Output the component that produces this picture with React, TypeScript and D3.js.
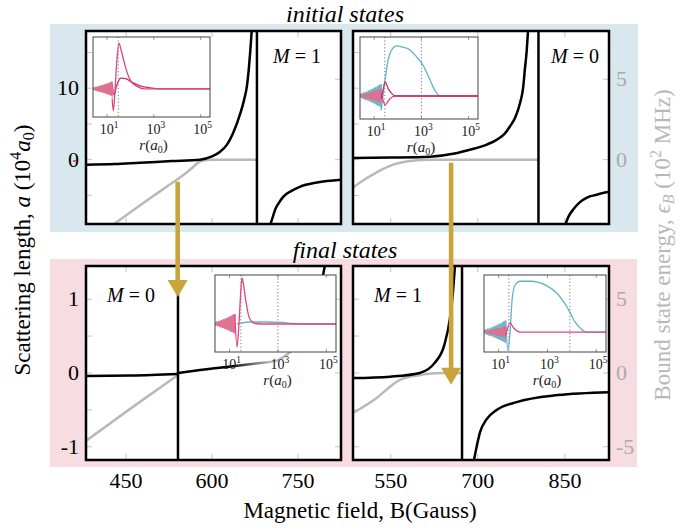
import React from "react";
import * as d3 from "d3";

const SERIF = "'Liberation Serif','Tinos','Times New Roman','Nimbus Roman','DejaVu Serif','Noto Serif',serif";

// ---------------- axis ticks ----------------
const LEFT_B_TICKS = [450, 600, 750];
const RIGHT_B_TICKS = [550, 700, 850];
const TOP_A_TICKS = [-5, 0, 5, 10, 15];
const TOP_A_LABELS = [0, 10];
const TOP_E_TICKS = [0, 5];
const BOT_A_TICKS = [-1, -0.5, 0, 0.5, 1];
const BOT_A_LABELS = [-1, 0, 1];
const BOT_E_TICKS = [-5, 0, 5];
const INSET_LOG_TICKS = [1, 3, 5];

// ---------------- main curves: [B (G), a (1e4 a0)] and [B, eps (1e2 MHz)] ----------------
const TL_A_LEFT: [number, number][] = [[380, -0.7], [430, -0.6], [474, -0.42], [530, -0.2], [579, 0], [600, 0.45], [614, 1.1], [626, 2.1], [636, 3.6], [649, 6.4], [656, 8.4], [661, 10.4], [664, 12.6], [666.5, 15], [669.6, 18.5]];
const TL_POLE = 678.3;
const TL_A_RIGHT: [number, number][] = [[700, -9.5], [706, -8], [710, -7], [717, -6], [724, -5.2], [738, -4.4], [753, -3.8], [783, -3.2], [825, -2.8]];
const TL_E: [number, number][] = [[425, -4.1], [480, -2.7], [520, -1.7], [550, -0.95], [565, -0.52], [575, -0.2], [585, -0.05], [600, 0], [678.3, 0]];

const TR_A_LEFT: [number, number][] = [[485, 0.25], [550, 0.3], [618, 0.42], [660, 0.85], [687, 1.4], [712, 2.0], [733, 2.8], [746, 3.6], [755, 4.6], [765, 6.0], [773, 8.0], [778, 10], [781, 12.6], [784, 15], [786.8, 18.5]];
const TR_POLE = 804.5;
const TR_A_RIGHT: [number, number][] = [[849, -9.5], [856, -8], [864, -7], [875, -6], [888, -5.3], [905, -4.9], [926, -4.5]];
const TR_E: [number, number][] = [[485, -1.74], [502, -1.3], [519, -0.93], [537, -0.58], [554, -0.31], [570, -0.16], [588, -0.07], [605, -0.02], [620, 0], [804.5, 0]];

const BL_A_LEFT: [number, number][] = [[380, -0.04], [460, -0.035], [540.5, -0.015]];
const BL_POLE = 540.5;
const BL_A_RIGHT: [number, number][] = [[540.5, 0], [579, 0.04], [640, 0.095]];
const BL_A_FADE: [number, number][] = [[640, 0.095], [684, 0.135], [710, 0.16], [727, 0.23], [745, 0.34], [762, 0.51], [774, 0.72], [785, 0.99], [792, 1.26], [798, 1.5]];
// gradient stops along B: black -> grey -> grey -> black
const BL_FADE_STOPS: [number, string][] = [[630, "#000"], [700, "#b9b9b9"], [784, "#b9b9b9"], [792, "#000"]];
const BL_E: [number, number][] = [[380, -4.6], [460, -2.35], [540.5, -0.14]];

const BR_A_LEFT: [number, number][] = [[485, -0.07], [549, -0.05], [600, 0], [626, 0.14], [642, 0.37], [652, 0.74], [657, 1.08], [661, 1.5]];
const BR_POLE = 672.8;
const BR_A_RIGHT: [number, number][] = [[693, -1.2], [698, -1.0], [704, -0.8], [715, -0.63], [733, -0.5], [767, -0.395], [838, -0.3], [926, -0.26]];
const BR_E: [number, number][] = [[485, -2.71], [521, -1.83], [566, -0.47], [599, -0.15], [620, -0.03], [640, 0], [672.8, 0]];

// ---------------- inset wavefunctions: [log10 r, psi (arb.)] ----------------
const NOISE = [0.1, -0.15, 0.2, -0.1, 0.25, -0.2, 0.15, -0.25, 0.3, -0.2, 0.3, -0.3, 0.25, -0.35, 0.35, -0.3, 0.4, -0.35, 0.35, -0.4, 0.45, -0.4, 0.5, -0.45, 0.45, -0.5, 0.55, -0.5, 0.6, -0.55, 0.6, -0.6, 0.65, -0.6, 0.7, -0.65, 0.75, -0.7, 0.7, -0.75, 0.8, -0.8, 0.85, -0.8, 0.9, -0.85, 0.95, -0.9, 1, -0.95, 1];

const TLI_A: [number, number][] = [[1.22, -0.2], [1.27, -0.42], [1.33, -0.1], [1.42, 0.55], [1.51, 0.88], [1.6, 0.75], [1.77, 0.45], [1.98, 0.18], [2.28, 0.05], [2.62, 0], [5.4, 0]];
const TLI_B: [number, number][] = [[1.22, 0.1], [1.3, -0.12], [1.4, 0.05], [1.6, 0.21], [1.8, 0.2], [1.98, 0.15], [2.41, 0.06], [2.84, 0.02], [3.26, 0], [5.4, 0]];
const TLI_DOTS = [1.48];

const TRI_T: [number, number][] = [[1.3, -0.24], [1.46, 0.27], [1.59, 0.61], [1.74, 0.78], [1.955, 0.85], [2.2, 0.83], [2.52, 0.78], [2.8, 0.66], [3.01, 0.56], [3.2, 0.42], [3.37, 0.27], [3.5, 0.15], [3.65, 0.05], [3.79, 0], [5.4, 0]];
const TRI_P1: [number, number][] = [[1.3, -0.05], [1.4, 0.15], [1.47, 0.24], [1.6, 0.12], [1.75, 0.04], [1.9, 0], [5.4, 0]];
const TRI_P2: [number, number][] = [[1.3, 0.05], [1.4, -0.1], [1.47, -0.15], [1.6, -0.08], [1.75, -0.02], [1.9, 0], [5.4, 0]];
const TRI_DOTS = [1.45, 3.0];

const BLI_P: [number, number][] = [[1.22, 0.2], [1.31, -0.47], [1.4, 0.1], [1.47, 0.7], [1.52, 0.94], [1.58, 0.8], [1.67, 0.49], [1.8, 0.15], [1.95, 0.04], [2.05, 0.01], [2.3, 0], [5.4, 0]];
const BLI_T: [number, number][] = [[1.3, 0], [1.5, 0.02], [1.8, 0.04], [2.5, 0.04], [3.2, 0.03], [3.6, 0.01], [4, 0], [5.4, 0]];
const BLI_DOTS = [1.47, 3.0];

const BRI_T: [number, number][] = [[1.3, 0.1], [1.38, -0.32], [1.47, 0], [1.55, 0.56], [1.67, 0.82], [1.88, 0.89], [2.29, 0.89], [2.98, 0.81], [3.39, 0.68], [3.8, 0.44], [4.13, 0.18], [4.42, 0.04], [4.58, 0], [5.4, 0]];
const BRI_P: [number, number][] = [[1.3, -0.05], [1.47, 0.16], [1.6, 0.08], [1.88, 0], [5.4, 0]];
const BRI_DOTS = [1.42, 3.92];

const PINK = "#e2457c";
const PINK_D = "#c9306a";
const PINK_N = "#de7090";
const TEAL = "#63b2ca";
const TEAL_N = "#6fb3c8";
const GREY = "#b9b9b9";
const GOLD = "#c9a43a";

type Pt = [number, number];
type InsetCurve = { pts: Pt[]; color: string; noise?: { end: number; amp: number; color: string } };
type Inset = { x0: number; x1: number; y0: number; y1: number; yDom: [number, number]; curves: InsetCurve[]; dots: number[] };
type Panel = {
  id: string; x0: number; x1: number; y0: number; y1: number;
  bDom: [number, number]; aDom: [number, number]; eDom: [number, number];
  bTicks: number[]; aTicks: number[]; aLabels: number[]; eTicks: number[];
  leftCol: boolean; bottomRow: boolean;
  aSegs: Pt[][]; fade?: { pts: Pt[]; stops: [number, string][] };
  pole: number; eLine: Pt[]; m: string; mPos: [number, number]; inset: Inset;
};

const PANELS: Panel[] = [
  {
    id: "tl", x0: 86, x1: 341, y0: 31, y1: 224, bDom: [380, 825], aDom: [-9, 18], eDom: [-4, 8],
    bTicks: LEFT_B_TICKS, aTicks: TOP_A_TICKS, aLabels: TOP_A_LABELS, eTicks: TOP_E_TICKS,
    leftCol: true, bottomRow: false, aSegs: [TL_A_LEFT, TL_A_RIGHT], pole: TL_POLE, eLine: TL_E, m: "1", mPos: [297, 63],
    inset: { x0: 93, x1: 210, y0: 37, y1: 117, yDom: [-0.54, 1], dots: TLI_DOTS,
      curves: [
        { pts: TLI_B, color: PINK_D, noise: { end: 1.22, amp: 0.1, color: PINK_N } },
        { pts: TLI_A, color: PINK, noise: { end: 1.22, amp: 0.14, color: PINK_N } },
      ] },
  },
  {
    id: "tr", x0: 353, x1: 609, y0: 31, y1: 224, bDom: [485, 926], aDom: [-9, 18], eDom: [-4, 8],
    bTicks: RIGHT_B_TICKS, aTicks: TOP_A_TICKS, aLabels: TOP_A_LABELS, eTicks: TOP_E_TICKS,
    leftCol: false, bottomRow: false, aSegs: [TR_A_LEFT, TR_A_RIGHT], pole: TR_POLE, eLine: TR_E, m: "0", mPos: [575, 63],
    inset: { x0: 360, x1: 478, y0: 37, y1: 119, yDom: [-0.39, 1], dots: TRI_DOTS,
      curves: [
        { pts: TRI_T, color: TEAL, noise: { end: 1.3, amp: 0.2, color: TEAL_N } },
        { pts: TRI_P2, color: PINK, noise: { end: 1.3, amp: 0.12, color: PINK_N } },
        { pts: TRI_P1, color: PINK_D },
      ] },
  },
  {
    id: "bl", x0: 86, x1: 341, y0: 266, y1: 460, bDom: [380, 825], aDom: [-1.18, 1.45], eDom: [-5.9, 7.25],
    bTicks: LEFT_B_TICKS, aTicks: BOT_A_TICKS, aLabels: BOT_A_LABELS, eTicks: BOT_E_TICKS,
    leftCol: true, bottomRow: true, aSegs: [BL_A_LEFT, BL_A_RIGHT], fade: { pts: BL_A_FADE, stops: BL_FADE_STOPS },
    pole: BL_POLE, eLine: BL_E, m: "0", mPos: [131, 302],
    inset: { x0: 215, x1: 336, y0: 275, y1: 352, yDom: [-0.572, 1], dots: BLI_DOTS,
      curves: [
        { pts: BLI_T, color: TEAL },
        { pts: BLI_P, color: PINK, noise: { end: 1.22, amp: 0.2, color: PINK_N } },
      ] },
  },
  {
    id: "br", x0: 353, x1: 609, y0: 266, y1: 460, bDom: [485, 926], aDom: [-1.18, 1.45], eDom: [-5.9, 7.25],
    bTicks: RIGHT_B_TICKS, aTicks: BOT_A_TICKS, aLabels: BOT_A_LABELS, eTicks: BOT_E_TICKS,
    leftCol: false, bottomRow: true, aSegs: [BR_A_LEFT, BR_A_RIGHT], pole: BR_POLE, eLine: BR_E, m: "1", mPos: [398, 302],
    inset: { x0: 484, x1: 606, y0: 275, y1: 352, yDom: [-0.35, 1], dots: BRI_DOTS,
      curves: [
        { pts: BRI_T, color: TEAL, noise: { end: 1.3, amp: 0.2, color: TEAL_N } },
        { pts: BRI_P, color: PINK, noise: { end: 1.3, amp: 0.1, color: PINK_N } },
      ] },
  },
];

// arrows: B value in column, start on top panel eps, tip on bottom panel a
const ARROWS = [
  { top: 0, bot: 2, B: 540, eTop: -1.37, aBot: 1.03 },
  { top: 1, bot: 3, B: 654, eTop: -0.19, aBot: -0.16 },
];

function scalesFor(p: Panel) {
  const x = d3.scaleLinear().domain(p.bDom).range([p.x0, p.x1]);
  const ya = d3.scaleLinear().domain(p.aDom).range([p.y1, p.y0]);
  const ye = d3.scaleLinear().domain(p.eDom).range([p.y1, p.y0]);
  return { x, ya, ye };
}

function InsetView({ ins, id }: { ins: Inset; id: string }) {
  const x = d3.scaleLinear().domain([0.4, 5.4]).range([ins.x0, ins.x1]);
  const y = d3.scaleLinear().domain(ins.yDom).range([ins.y1, ins.y0]);
  const smooth = d3.line<Pt>().x((d) => x(d[0])).y((d) => y(d[1])).curve(d3.curveMonotoneX);
  const lin = d3.line<Pt>().x((d) => x(d[0])).y((d) => y(d[1]));
  const clip = `clip-ins-${id}`;
  return (
    <g>
      <defs>
        <clipPath id={clip}>
          <rect x={ins.x0} y={ins.y0} width={ins.x1 - ins.x0} height={ins.y1 - ins.y0} />
        </clipPath>
      </defs>
      <rect x={ins.x0} y={ins.y0} width={ins.x1 - ins.x0} height={ins.y1 - ins.y0} fill="#fff" />
      <g clipPath={`url(#${clip})`}>
        {ins.dots.map((d, i) => (
          <line key={i} x1={x(d)} x2={x(d)} y1={ins.y0} y2={ins.y1} stroke="#777" strokeWidth={1} strokeDasharray="1.2,2.2" />
        ))}
        {ins.curves.map((c, i) => {
          let noisePath: string | null = null;
          if (c.noise) {
            const n = c.noise;
            const pts: Pt[] = NOISE.map((v, k) => [0.4 + (k * (n.end - 0.4)) / (NOISE.length - 1), v * n.amp]);
            pts.push(c.pts[0]);
            noisePath = lin(pts);
          }
          return (
            <g key={i}>
              {noisePath && <path d={noisePath} fill="none" stroke={c.noise!.color} strokeWidth={0.9} />}
              <path d={smooth(c.pts) || ""} fill="none" stroke={c.color} strokeWidth={1.3} />
            </g>
          );
        })}
        {INSET_LOG_TICKS.map((t) => (
          <g key={t}>
            <line x1={x(t)} x2={x(t)} y1={ins.y1} y2={ins.y1 - 3} stroke="#999" />
            <line x1={x(t)} x2={x(t)} y1={ins.y0} y2={ins.y0 + 3} stroke="#999" />
          </g>
        ))}
        <line x1={ins.x0} x2={ins.x0 + 3} y1={y(0)} y2={y(0)} stroke="#999" />
      </g>
      <rect x={ins.x0} y={ins.y0} width={ins.x1 - ins.x0} height={ins.y1 - ins.y0} fill="none" stroke="#444" strokeWidth={1} />
      {INSET_LOG_TICKS.map((t) => (
        <text key={t} x={x(t) + 2} y={ins.y1 + 17} fontSize={14} textAnchor="middle" fontFamily={SERIF} fill="#222">
          10<tspan dy={-6} fontSize={9.5}>{t}</tspan>
        </text>
      ))}
      <text x={(ins.x0 + ins.x1) / 2 + 2} y={ins.y1 + 33} fontSize={15} textAnchor="middle" fontFamily={SERIF} fill="#222">
        <tspan fontStyle="italic">r</tspan>
        <tspan>(</tspan>
        <tspan fontStyle="italic">a</tspan>
        <tspan dy={3} fontSize={10}>0</tspan>
        <tspan dy={-3}>)</tspan>
      </text>
    </g>
  );
}

function PanelView({ p }: { p: Panel }) {
  const { x, ya, ye } = scalesFor(p);
  const la = d3.line<Pt>().x((d) => x(d[0])).y((d) => ya(d[1])).curve(d3.curveMonotoneX);
  const le = d3.line<Pt>().x((d) => x(d[0])).y((d) => ye(d[1])).curve(d3.curveMonotoneX);
  const clip = `clip-${p.id}`;
  const grad = `fade-${p.id}`;
  const tk = 6;
  let gx0 = 0;
  let gx1 = 1;
  if (p.fade) {
    gx0 = x(p.fade.stops[0][0]);
    gx1 = x(p.fade.stops[p.fade.stops.length - 1][0]);
  }
  return (
    <g>
      <defs>
        <clipPath id={clip}>
          <rect x={p.x0} y={p.y0} width={p.x1 - p.x0} height={p.y1 - p.y0} />
        </clipPath>
        {p.fade && (
          <linearGradient id={grad} gradientUnits="userSpaceOnUse" x1={gx0} x2={gx1} y1={0} y2={0}>
            {p.fade.stops.map(([b, c], i) => (
              <stop key={i} offset={(x(b) - gx0) / (gx1 - gx0)} stopColor={c} />
            ))}
          </linearGradient>
        )}
      </defs>
      <rect x={p.x0} y={p.y0} width={p.x1 - p.x0} height={p.y1 - p.y0} fill="#fff" />
      <g stroke="#c4c4c4" strokeWidth={1}>
        {p.bTicks.map((t) => (
          <g key={t}>
            <line x1={x(t)} x2={x(t)} y1={p.y1} y2={p.y1 - tk} />
            <line x1={x(t)} x2={x(t)} y1={p.y0} y2={p.y0 + tk} />
          </g>
        ))}
        {p.aTicks.map((t) => (
          <line key={"a" + t} x1={p.x0} x2={p.x0 + tk} y1={ya(t)} y2={ya(t)} />
        ))}
        {p.eTicks.map((t) => (
          <line key={"e" + t} x1={p.x1} x2={p.x1 - tk} y1={ye(t)} y2={ye(t)} />
        ))}
      </g>
      <g clipPath={`url(#${clip})`}>
        <path d={le(p.eLine) || ""} fill="none" stroke={GREY} strokeWidth={2.5} />
        <line x1={x(p.pole)} x2={x(p.pole)} y1={p.y0} y2={p.y1} stroke="#000" strokeWidth={2.5} />
        {p.aSegs.map((s, i) => (
          <path key={i} d={la(s) || ""} fill="none" stroke="#000" strokeWidth={2.5} />
        ))}
        {p.fade && <path d={la(p.fade.pts) || ""} fill="none" stroke={`url(#${grad})`} strokeWidth={2.5} />}
      </g>
      <InsetView ins={p.inset} id={p.id} />
      <rect x={p.x0} y={p.y0} width={p.x1 - p.x0} height={p.y1 - p.y0} fill="none" stroke="#000" strokeWidth={2.5} />
      <text x={p.mPos[0]} y={p.mPos[1]} fontSize={20} textAnchor="middle" fontFamily={SERIF}>
        <tspan fontStyle="italic">M</tspan>
        <tspan>{" = " + p.m}</tspan>
      </text>
      {p.leftCol &&
        p.aLabels.map((t) => (
          <text key={t} x={p.x0 - 7} y={ya(t) + 7} fontSize={22} textAnchor="end" fontFamily={SERIF}>
            {String(t)}
          </text>
        ))}
      {!p.leftCol &&
        p.eTicks.map((t) => (
          <text key={t} x={p.x1 + 7} y={ye(t) + 7} fontSize={22} textAnchor="start" fontFamily={SERIF} fill="#aaa">
            {String(t)}
          </text>
        ))}
      {p.bottomRow &&
        p.bTicks.map((t) => (
          <text key={t} x={x(t)} y={p.y1 + 28} fontSize={22} textAnchor="middle" fontFamily={SERIF}>
            {String(t)}
          </text>
        ))}
    </g>
  );
}

export default function App() {
  const W = 689;
  const H = 528;
  const sc = PANELS.map(scalesFor);
  return (
    <svg width={W} height={H} viewBox={`0 0 ${W} ${H}`} style={{ position: "absolute", left: 0, top: 0, display: "block", background: "#fff", fontFamily: SERIF }}>
      <rect x={0} y={0} width={W} height={H} fill="#fff" />
      <rect x={50} y={24} width={588} height={208} fill="#d9e8ee" />
      <rect x={50} y={259} width={587} height={208} fill="#f7dde1" />
      {PANELS.map((p) => (
        <PanelView key={p.id} p={p} />
      ))}
      <text x={345} y={22} fontSize={24} textAnchor="middle" fontStyle="italic" fontFamily={SERIF}>initial states</text>
      <text x={345} y={258} fontSize={24} textAnchor="middle" fontStyle="italic" fontFamily={SERIF}>final states</text>
      <line x1={73} x2={77} y1={161} y2={161} stroke="#e00" strokeWidth={1.2} />
      {ARROWS.map((a, i) => {
        const xx = sc[a.top].x(a.B);
        const y0 = sc[a.top].ye(a.eTop);
        const yt = sc[a.bot].ya(a.aBot);
        const hh = 17;
        const hw = 10;
        return (
          <g key={i}>
            <rect x={xx - 2.3} y={y0} width={4.6} height={yt - y0 - hh + 2} fill={GOLD} />
            <path d={`M${xx - hw},${yt - hh} L${xx + hw},${yt - hh} L${xx},${yt} Z`} fill={GOLD} />
          </g>
        );
      })}
      <text transform="translate(30,250) rotate(-90)" fontSize={23} textAnchor="middle" fontFamily={SERIF}>
        <tspan>{"Scattering length, "}</tspan>
        <tspan fontStyle="italic">a</tspan>
        <tspan>{" (10"}</tspan>
        <tspan dy={-9} fontSize={16}>4</tspan>
        <tspan dy={9} fontStyle="italic">a</tspan>
        <tspan dy={4} fontSize={16}>0</tspan>
        <tspan dy={-4}>)</tspan>
      </text>
      <text transform="translate(670,245) rotate(-90)" fontSize={23} textAnchor="middle" fontFamily={SERIF} fill="#b8b8b8">
        <tspan>{"Bound state energy, "}</tspan>
        <tspan fontStyle="italic">{"\u03F5"}</tspan>
        <tspan dy={4} fontSize={16} fontStyle="italic">B</tspan>
        <tspan dy={-4}>{" (10"}</tspan>
        <tspan dy={-9} fontSize={16}>2</tspan>
        <tspan dy={9}>{" MHz)"}</tspan>
      </text>
      <text x={360} y={518} fontSize={23} textAnchor="middle" fontFamily={SERIF}>
        Magnetic field, B(Gauss)
      </text>
    </svg>
  );
}
